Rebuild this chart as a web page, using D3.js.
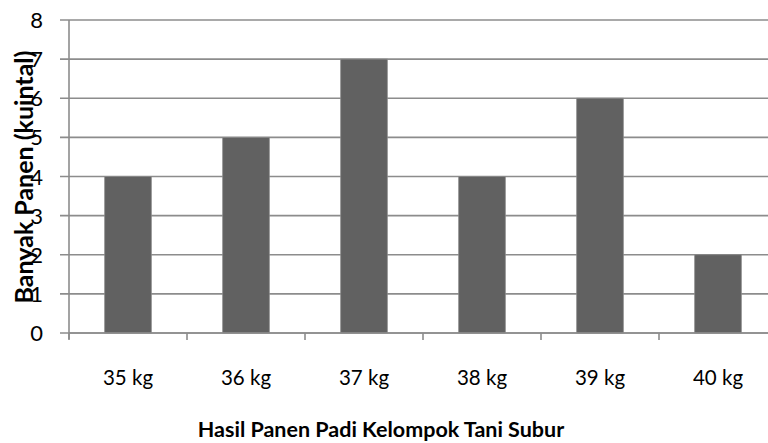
<!DOCTYPE html>
<html>
<head>
<meta charset="utf-8">
<script src="https://cdn.jsdelivr.net/npm/d3@7"></script>
<style>
  body { margin: 0; background: #fff; }
  svg { display: block; }
  text { font-family: Lato, "Open Sans", sans-serif; fill: #000; }
</style>
</head>
<body>
<div id="chart"></div>
<script>
const categories = ['35 kg', '36 kg', '37 kg', '38 kg', '39 kg', '40 kg'];
const values = [4, 5, 7, 4, 6, 2];
const yTicks = [0, 1, 2, 3, 4, 5, 6, 7, 8];

const width = 768;
const height = 443;
const plot = { left: 69, top: 20, width: 708, height: 313 };

const svg = d3.select('#chart')
  .append('svg')
  .attr('width', width)
  .attr('height', height);

const x = d3.scaleBand()
  .domain(categories)
  .range([plot.left, plot.left + plot.width])
  .paddingInner(0.605)
  .paddingOuter(0.3025);

const y = d3.scaleLinear()
  .domain([0, 8])
  .range([plot.top + plot.height, plot.top]);

// gridlines + left ticks
svg.append('g')
  .selectAll('line')
  .data(yTicks)
  .join('line')
  .attr('x1', plot.left - 9)
  .attr('x2', plot.left + plot.width)
  .attr('y1', d => y(d))
  .attr('y2', d => y(d))
  .attr('stroke', '#8c8c8c')
  .attr('stroke-width', 1.6);

// y axis line
svg.append('line')
  .attr('x1', plot.left).attr('x2', plot.left)
  .attr('y1', plot.top).attr('y2', y(0) + 6)
  .attr('stroke', '#8c8c8c')
  .attr('stroke-width', 1.6);

// bars
svg.append('g')
  .selectAll('rect')
  .data(values)
  .join('rect')
  .attr('x', (d, i) => x(categories[i]))
  .attr('width', x.bandwidth())
  .attr('y', d => y(d))
  .attr('height', d => y(0) - y(d))
  .attr('fill', '#616161')
  .attr('stroke', '#8a8a8a')
  .attr('stroke-width', 0.8);

// x axis
const step = x.step();
const boundaries = d3.range(categories.length + 1).map(i => plot.left + i * step);
svg.append('g')
  .selectAll('line')
  .data(boundaries)
  .join('line')
  .attr('x1', d => d).attr('x2', d => d)
  .attr('y1', y(0)).attr('y2', y(0) + 7)
  .attr('stroke', '#8c8c8c')
  .attr('stroke-width', 1.6);

svg.append('line')
  .attr('x1', plot.left).attr('x2', plot.left + plot.width)
  .attr('y1', y(0)).attr('y2', y(0))
  .attr('stroke', '#8c8c8c')
  .attr('stroke-width', 1.6);

// y tick labels
svg.append('g')
  .selectAll('text')
  .data(yTicks)
  .join('text')
  .attr('x', 43)
  .attr('y', d => y(d) + 8)
  .attr('text-anchor', 'end')
  .style('font-size', '22px')
  .text(d => d);

// x tick labels
svg.append('g')
  .selectAll('text')
  .data(categories)
  .join('text')
  .attr('x', d => x(d) + x.bandwidth() / 2)
  .attr('y', 385)
  .attr('text-anchor', 'middle')
  .style('font-size', '20.5px')
  .text(d => d);

// axis titles
svg.append('text')
  .attr('transform', 'translate(33,177) rotate(-90)')
  .attr('text-anchor', 'middle')
  .style('font-size', '25px')
  .style('font-weight', 'bold')
  .text('Banyak Panen (kuintal)');

svg.append('text')
  .attr('x', 381)
  .attr('y', 437)
  .attr('text-anchor', 'middle')
  .style('font-size', '21.5px')
  .style('font-weight', 'bold')
  .text('Hasil Panen Padi Kelompok Tani Subur');
</script>
</body>
</html>
